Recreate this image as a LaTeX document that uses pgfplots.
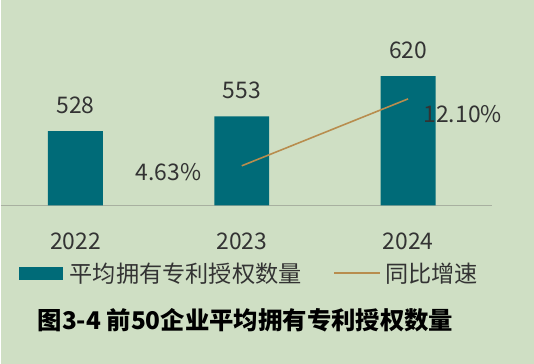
\documentclass[border=0pt]{standalone}
\usepackage{pgfplots}
\pgfplotsset{compat=1.18}
\usepackage{fontspec}
\setmainfont{Noto Sans CJK SC}
\definecolor{bg}{HTML}{CFDFC4}
\definecolor{barc}{HTML}{006B78}
\definecolor{linec}{HTML}{B88D4E}
\definecolor{axc}{HTML}{A8B0A0}
\definecolor{txt}{HTML}{333333}
\begin{document}
\begin{tikzpicture}
\fill[bg] (0bp,0bp) rectangle (534bp,364bp);
\begin{axis}[
  at={(0bp,158.5bp)}, anchor=south west,
  scale only axis, width=492bp, height=205.5bp,
  xmin=-0.45, xmax=2.505, ymin=404, ymax=747.6,
  axis x line*=bottom, axis y line=none,
  x axis line style={axc, line width=1.2pt, -},
  xtick={0,1,2}, xticklabels={2022,2023,2024},
  major tick length=0pt,
  /pgf/number format/assume math mode=true,
  xticklabel style={font=\fontsize{23}{23}\selectfont, text=txt, anchor=base, yshift=-44bp},
  ybar, bar width=55bp,
  nodes near coords,
  every node near coord/.append style={font=\fontsize{23}{23}\selectfont, text=txt, anchor=base, yshift=18bp},
  clip=false,
]
\addplot[fill=barc, draw=none, bar shift=0pt] coordinates {(0,528) (1,553) (2,620)};
\end{axis}
\begin{axis}[
  at={(0bp,158.5bp)}, anchor=south west,
  scale only axis, width=492bp, height=205.5bp,
  xmin=-0.45, xmax=2.505, ymin=0.226, ymax=23.14,
  axis lines=none, clip=false,
]
\addplot[linec, line width=1.6pt] coordinates {(1,4.63) (2,12.10)};
\node[font=\fontsize{23}{23}\selectfont, text=txt, anchor=east] at (axis cs:1,4.63) [xshift=-37bp, yshift=-6bp] {4.63\%};
\node[font=\fontsize{23}{23}\selectfont, text=txt, anchor=west] at (axis cs:2,12.10) [xshift=12bp, yshift=-15bp] {12.10\%};
\end{axis}
% legend
\fill[barc] (18bp,84bp) rectangle (62bp,97bp);
\node[font=\fontsize{23.3}{23.3}\selectfont, text=txt, anchor=west, inner sep=0pt] at (69bp,90bp) {平均拥有专利授权数量};
\draw[linec, line width=1.6pt] (334bp,90.5bp) -- (380bp,90.5bp);
\node[font=\fontsize{23.3}{23.3}\selectfont, text=txt, anchor=west, inner sep=0pt] at (385bp,90bp) {同比增速};
\node[font=\fontsize{24.5}{24.5}\selectfont\bfseries, text=black, anchor=west, inner sep=0pt] at (37bp,43bp) {图3-4 前50企业平均拥有专利授权数量};
\end{tikzpicture}
\end{document}
